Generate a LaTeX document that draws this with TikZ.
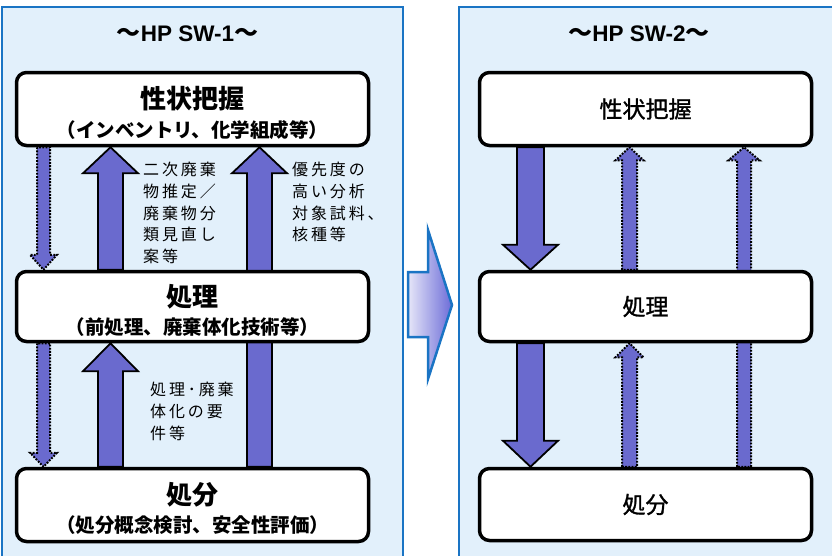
\documentclass[tikz,border=0pt]{standalone}
\usepackage{fontspec}
\usetikzlibrary{calc}
\newfontfamily\jp{Noto Sans CJK JP}
\newfontfamily\jpm{Noto Sans CJK JP}[FakeBold=1.3]
\newfontfamily\jpsp{Noto Sans CJK JP}[LetterSpace=18]
\newfontfamily\lat{Liberation Sans}
\definecolor{panelfill}{HTML}{E2F0FB}
\definecolor{panelline}{HTML}{1A74C4}
\definecolor{arrowfill}{HTML}{6A6ACE}
\definecolor{gradlight}{HTML}{E6E6F8}
\definecolor{graddark}{HTML}{6C6CD8}
\pgfdeclarelayer{bg}\pgfdeclarelayer{mid}\pgfsetlayers{bg,mid,main}
\tikzset{
  panel/.style={draw=panelline, line width=2pt, fill=panelfill},
  box/.style={draw=black, line width=3.5pt, fill=white, rounded corners=10pt, inner sep=0pt},
  lbox/.style={box, minimum width=352pt},
  rbox/.style={box, minimum width=332pt, font=\jpm\fontsize{23}{26}\selectfont},
  btext/.style={inner sep=0pt, align=center, font=\jp\bfseries},
  solidarrow/.style={draw=black, line width=1.8pt, fill=arrowfill, line join=miter},
  dotarrow/.style={draw=black, line width=2pt, dash pattern=on 1.8pt off 1.4pt, fill=arrowfill},
  lbl/.style={anchor=north west, inner sep=0pt, align=left, font=\jpsp\fontsize{16}{21.7}\selectfont},
  ttl/.style={inner sep=0pt, font=\bfseries},
}
\newcommand\varrow[6]{%
  \path[#1] let \p1=(#2), \p2=(#3), \n1={ifthenelse(\y2>\y1,1,-1)} in
  (\x1-#4,\y1) -- (\x1-#4,\y2-\n1*#6) -- (\x1-#5,\y2-\n1*#6) -- (\x1,\y2)
  -- (\x1+#5,\y2-\n1*#6) -- (\x1+#4,\y2-\n1*#6) -- (\x1+#4,\y1) -- cycle;}
\newcommand\bigt[1]{{\fontsize{26}{30}\selectfont #1}}
\newcommand\subt[1]{{\fontsize{19.5}{30}\selectfont #1}}
\newcommand\tl[1]{{\jp\fontsize{24}{26}\selectfont ～}{\lat\fontsize{22.5}{26}\selectfont #1}{\jp\fontsize{24}{26}\selectfont ～}}
\begin{document}
\begin{tikzpicture}[x=1pt,y=-1pt]
\useasboundingbox (0,0) rectangle (832,555);
\begin{pgfonlayer}{bg}
  \path[panel] (1.5,7) rectangle (403,560);
  \path[panel] (459,7) rectangle (840,560);
  \path[draw=panelline, line width=2.5pt, line join=miter, left color=gradlight, right color=graddark]
    (408,272) -- (428,272) -- (428,230) -- (452,305) -- (428,379) -- (428,337) -- (408,337) -- cycle;
\end{pgfonlayer}

% titles
\node[ttl] (t1) at (187.5,34) {\tl{HP SW-1}};
\node[ttl] (t2) at (639,34) {\tl{HP SW-2}};

% left boxes
\node[lbox, minimum height=73pt] (L1) at (192.5,109) {};
\node[lbox, minimum height=70pt] (L2) at (192.5,306.5) {};
\node[lbox, minimum height=73pt] (L3) at (192.5,505) {};
\node[btext] (L1t) at ([yshift=-4pt]L1.center) {\bigt{性状把握}\\[8pt]\subt{（インベントリ、化学組成等）}};
\node[btext] (L2t) at ([yshift=-4pt]L2.center) {\bigt{処理}\\[7pt]\subt{（前処理、廃棄体化技術等）}};
\node[btext] (L3t) at ([yshift=-3.5pt]L3.center) {\bigt{処分}\\[7pt]\subt{（処分概念検討、安全性評価）}};

% right boxes
\node[rbox, minimum height=73pt] (R1) at (645.5,109) {性状把握};
\node[rbox, minimum height=70pt] (R2) at (645.5,306.5) {処理};
\node[rbox, minimum height=72pt] (R3) at (645.5,504.5) {処分};

% x positions of arrows
\coordinate (xa) at (43.5,0);
\coordinate (xb) at (110.5,0);
\coordinate (xc) at (259.5,0);
\coordinate (xd) at (530.5,0);
\coordinate (xe) at (629.5,0);
\coordinate (xf) at (744,0);

\begin{pgfonlayer}{mid}
  % left panel
  \varrow{dotarrow}{xa |- L1.south}{xa |- L2.north}{6.5pt}{13.5pt}{15pt}
  \varrow{dotarrow}{xa |- L2.south}{xa |- L3.north}{6.5pt}{13.5pt}{14pt}
  \varrow{solidarrow}{xb |- L2.north}{xb |- L1.south}{12.5pt}{27.5pt}{26pt}
  \varrow{solidarrow}{xb |- L3.north}{xb |- L2.south}{12.5pt}{27.5pt}{28pt}
  \varrow{solidarrow}{xc |- L3.north}{xc |- L1.south}{12.5pt}{27.5pt}{26pt}
  % right panel
  \varrow{solidarrow}{xd |- R1.south}{xd |- R2.north}{13.5pt}{27.5pt}{25pt}
  \varrow{solidarrow}{xd |- R2.south}{xd |- R3.north}{13.5pt}{27.5pt}{26pt}
  \varrow{dotarrow}{xe |- R2.north}{xe |- R1.south}{7.5pt}{14pt}{13pt}
  \varrow{dotarrow}{xe |- R3.north}{xe |- R2.south}{7.5pt}{14pt}{14pt}
  \varrow{dotarrow}{xf |- R3.north}{xf |- R1.south}{7pt}{15.5pt}{13pt}
\end{pgfonlayer}

% labels
\node[lbl] (n1) at (143,162) {二次廃棄\\物推定／\\廃棄物分\\類見直し\\案等};
\node[lbl] (n2) at (292,162) {優先度の\\高い分析\\対象試料、\\核種等};
\node[lbl] (n3) at (150,382) {処理･廃棄\\体化の要\\件等};
\end{tikzpicture}
\end{document}
